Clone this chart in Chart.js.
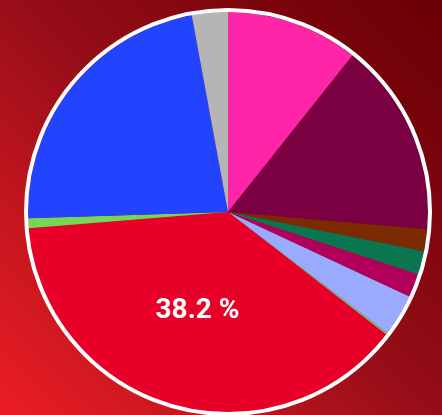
<!DOCTYPE html>
<html>
<head>
<meta charset="utf-8">
<script src="https://cdn.jsdelivr.net/npm/chart.js@4/dist/chart.umd.min.js"></script>
<style>
  html, body { margin: 0; padding: 0; }
  body {
    width: 442px; height: 415px; overflow: hidden; position: relative;
    background: linear-gradient(45deg, #ec1d24 0%, #c4161f 25%, #970e18 50%, #7c040c 78%, #6a0006 100%);
  }
  #wrap { position: absolute; left: 0; top: -16px; width: 456px; height: 456px; }
</style>
</head>
<body>
<div id="wrap"><canvas id="pie"></canvas></div>
<script>
// slices clockwise from 12 o'clock (percent)
const labels = ['A', 'B', 'C', 'D', 'E', 'F', 'G', 'H', 'I', 'J', 'K'];
const values = [10.7, 15.7, 1.75, 1.9, 1.9, 3.4, 0.15, 38.2, 0.8, 22.6, 2.9];
const colors = [
  '#ff25a8', '#7a0042', '#7c2a02', '#0b7550', '#b0005c', '#9aaaff',
  '#7fc070', '#e80028', '#77d655', '#2244ff', '#b5b5b5'
];

// white ring round the pie + percent label on the biggest slice
const ringAndLabel = {
  id: 'ringAndLabel',
  afterDatasetsDraw(chart) {
    const ctx = chart.ctx;
    const arcs = chart.getDatasetMeta(0).data;
    const a0 = arcs[0];
    ctx.save();
    ctx.beginPath();
    ctx.arc(a0.x, a0.y, a0.outerRadius + 2, 0, Math.PI * 2);
    ctx.strokeStyle = '#ffffff';
    ctx.lineWidth = 4;
    ctx.stroke();

    const total = values.reduce((s, v) => s + v, 0);
    const big = values.indexOf(Math.max(...values));
    const pos = arcs[big].tooltipPosition();
    ctx.fillStyle = '#ffffff';
    ctx.font = 'bold 28px Roboto';
    ctx.textAlign = 'center';
    ctx.textBaseline = 'middle';
    ctx.fillText((values[big] / total * 100).toFixed(1) + ' %', pos.x - 2, pos.y + 3);
    ctx.restore();
  }
};

new Chart(document.getElementById('pie'), {
  type: 'pie',
  data: {
    labels: labels,
    datasets: [{
      data: values,
      backgroundColor: colors,
      borderWidth: 0
    }]
  },
  options: {
    responsive: true,
    maintainAspectRatio: false,
    animation: false,
    layout: { padding: 28 },
    plugins: {
      legend: { display: false },
      tooltip: { enabled: false }
    }
  },
  plugins: [ringAndLabel]
});
</script>
</body>
</html>
